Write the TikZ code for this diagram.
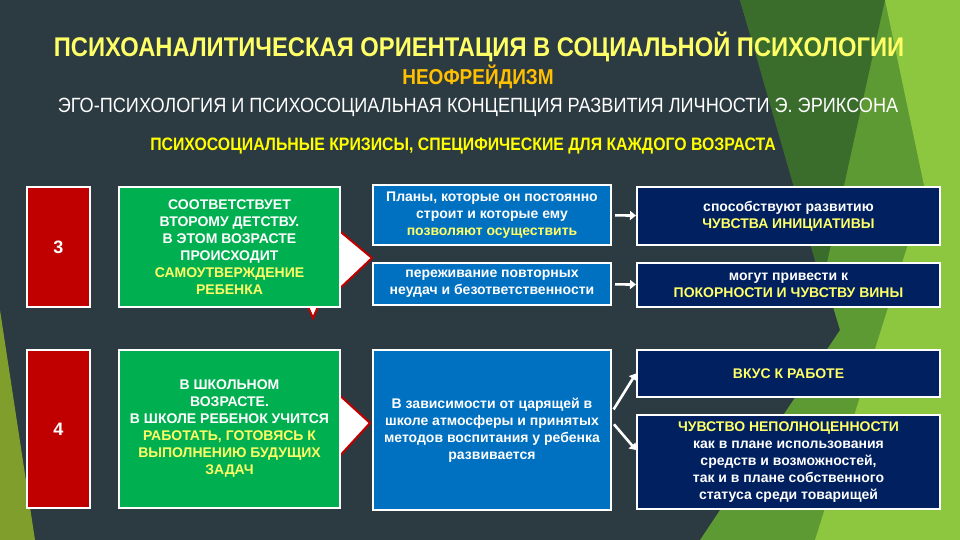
\documentclass[tikz,border=0pt]{standalone}
\usepackage{fontspec}
\setmainfont{Liberation Sans}
\newfontfamily\narrowfont[FakeStretch=0.88]{Liberation Sans}
\usetikzlibrary{arrows.meta, calc, positioning}
\definecolor{bgslate}{HTML}{2C3A41}
\definecolor{boxred}{HTML}{C00000}
\definecolor{boxgreen}{HTML}{00B050}
\definecolor{boxblue}{HTML}{0070C0}
\definecolor{boxnavy}{HTML}{002060}
\definecolor{paleyellow}{HTML}{FFFF66}
\definecolor{brightyellow}{HTML}{FFFF00}
\definecolor{orangetitle}{HTML}{FFC000}
\definecolor{leafdark}{HTML}{3A6D2C}
\definecolor{leafmid}{HTML}{5E9A34}
\definecolor{leaflight}{HTML}{8DC63F}
\definecolor{olivegreen}{HTML}{809E2C}
\newcommand{\yel}[1]{\textcolor{paleyellow}{#1}}

\begin{document}
\begin{tikzpicture}[x=0.5pt, y=-0.5pt,
        numbox/.style={draw=white, line width=1pt, fill=boxred, text=white, minimum width=31.5pt, font=\bfseries\fontsize{9}{10}\selectfont},
        agebox/.style={draw=white, line width=1pt, fill=boxgreen, text=white, minimum width=110.5pt, align=center, font=\bfseries\fontsize{7}{8.5}\selectfont},
        planbox/.style={draw=white, line width=1pt, fill=boxblue, text=white, minimum width=119pt, align=center, font=\bfseries\fontsize{7}{8.5}\selectfont},
        resbox/.style={draw=white, line width=1pt, fill=boxnavy, text=white, minimum width=151.5pt, align=center, font=\bfseries\fontsize{7}{8.5}\selectfont},
        link/.style={-{Triangle[length=3pt,width=4.5pt]}, white, line width=1.3pt, shorten <=1.5pt},
        pointer/.style={fill=white, draw=boxred, line width=1pt}]

        % Background
        \fill[bgslate] (0,0) rectangle (960,540);
        \fill[leafmid] (740,0) -- (960,0) -- (960,540) -- (700,540) -- (840,330) -- cycle;
        \fill[leafdark] (740,0) -- (885,0) -- (822,285) -- cycle;
        \fill[leaflight] (885,0) -- (960,0) -- (960,540) -- (815,540) -- (925,190) -- cycle;
        \fill[olivegreen] (0,310) -- (35,540) -- (0,540) -- cycle;

        % Titles
        \node[text=paleyellow, font=\narrowfont\bfseries\fontsize{13.5}{15}\selectfont] (title) at (479,47) {ПСИХОАНАЛИТИЧЕСКАЯ ОРИЕНТАЦИЯ В СОЦИАЛЬНОЙ ПСИХОЛОГИИ};
        \node[text=orangetitle, font=\narrowfont\bfseries\fontsize{10.8}{12}\selectfont] (neo) at (478,77) {НЕОФРЕЙДИЗМ};
        \node[text=white, font=\narrowfont\fontsize{10.3}{12}\selectfont] (ego) at (478,107) {ЭГО-ПСИХОЛОГИЯ И ПСИХОСОЦИАЛЬНАЯ КОНЦЕПЦИЯ РАЗВИТИЯ ЛИЧНОСТИ Э. ЭРИКСОНА};
        \node[text=brightyellow, font=\narrowfont\bfseries\fontsize{9}{11}\selectfont] (crisis) at (463,146) {ПСИХОСОЦИАЛЬНЫЕ КРИЗИСЫ, СПЕЦИФИЧЕСКИЕ ДЛЯ КАЖДОГО ВОЗРАСТА};

        % Pointers
        \filldraw[pointer] (336,228) -- (372,258) -- (336,292);
        \filldraw[pointer] (305,300) -- (313,318) -- (321,300);
        \filldraw[pointer] (336,392) -- (370,423) -- (336,460);

        % Stage 3
        \node[numbox, minimum height=60pt] (three) at (58.5,247) {3};
        \node[agebox, minimum height=60pt] (second) at (229.5,247) {СООТВЕТСТВУЕТ\\ВТОРОМУ ДЕТСТВУ.\\В ЭТОМ ВОЗРАСТЕ\\ПРОИСХОДИТ\\\yel{САМОУТВЕРЖДЕНИЕ}\\\yel{РЕБЕНКА}};
        \node[planbox, minimum height=28pt] (plans) at (492,215) {Планы, которые он постоянно\\строит и которые ему\\\yel{позволяют осуществить}};
        \node[planbox, minimum height=21pt] (fails) at (492,284) {переживание повторных\\неудач и безответственности};
        \node[resbox, minimum height=29pt] (init) at (788.5,216) {способствуют развитию\\\yel{ЧУВСТВА ИНИЦИАТИВЫ}};
        \node[resbox, minimum height=22pt] (guilt) at (788.5,285) {могут привести к\\\yel{ПОКОРНОСТИ И ЧУВСТВУ ВИНЫ}};

        % Stage 4
        \node[numbox, minimum height=79pt] (four) at (58.5,429) {4};
        \node[agebox, minimum height=79pt] (school) at (229.5,429) {В ШКОЛЬНОМ\\ВОЗРАСТЕ.\\В ШКОЛЕ РЕБЕНОК УЧИТСЯ\\\yel{РАБОТАТЬ, ГОТОВЯСЬ К}\\\yel{ВЫПОЛНЕНИЮ БУДУЩИХ}\\\yel{ЗАДАЧ}};
        \node[planbox, minimum height=80pt] (climate) at (492,430) {В зависимости от царящей в\\школе атмосферы и принятых\\методов воспитания у ребенка\\развивается};
        \node[resbox, minimum height=23.5pt] (taste) at (788.5,373.5) {\yel{ВКУС К РАБОТЕ}};
        \node[resbox, minimum height=45pt] (inferior) at (788.5,462) {\yel{ЧУВСТВО НЕПОЛНОЦЕННОСТИ}\\как в плане использования\\средств и возможностей,\\так и в плане собственного\\статуса среди товарищей};

        % Arrows
        \draw[link] (plans) -- (init);
        \draw[link] (fails) -- (guilt);
        \draw[link] ([yshift=9pt]climate.east) -- (taste.west);
        \draw[link] ([yshift=4pt]climate.east) -- ([yshift=6pt]inferior.west);
    \end{tikzpicture}
\end{document}
